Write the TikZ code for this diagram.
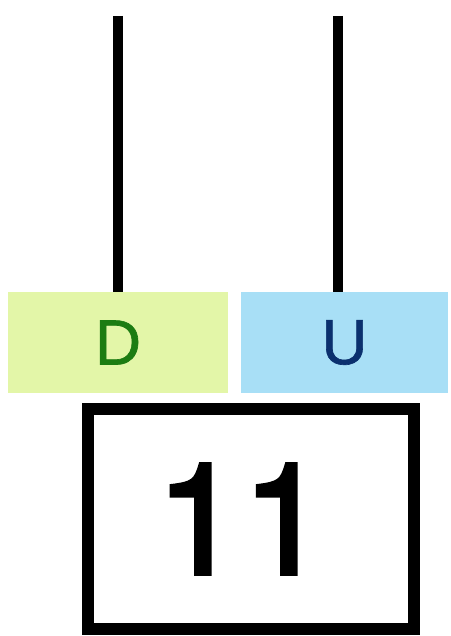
\documentclass[tikz,border=0pt]{standalone}
\usepackage{fontspec}
\setmainfont{Liberation Sans}
\newfontfamily\strandfont[FakeBold=1]{Liberation Sans}
\newfontfamily\countfont[FakeBold=2.5]{TeX Gyre Heros}
\usepackage{tikz}
\usetikzlibrary{positioning}
\definecolor{dfill}{HTML}{E3F6A8}
\definecolor{ufill}{HTML}{A8DFF6}
\definecolor{dtext}{HTML}{1C7C12}
\definecolor{utext}{HTML}{0B306E}
\tikzstyle{strand} = [rectangle, inner sep=0pt, minimum height=101pt,
                font=\strandfont\fontsize{64}{64}\selectfont]
\tikzstyle{wire} = [draw, line width=10pt]
\tikzstyle{countbox} = [rectangle, draw, line width=12pt, inner sep=0pt,
                minimum width=326pt, minimum height=220pt,
                font=\countfont\fontsize{155}{155}\selectfont]

\begin{document}
\begin{tikzpicture}[x=1pt,y=-1pt]
            \useasboundingbox (0,0) rectangle (450,636);
            \node[strand, fill=dfill, text=dtext, minimum width=220pt](down) at (118,342.5){D};
            \node[strand, fill=ufill, text=utext, minimum width=207pt](up) at (344.5,342.5){U};
            \node[countbox](count) at (251,519){\hspace*{-18pt}11};
            \coordinate (downtop) at (118,16);
            \coordinate (uptop) at (338,16);
            \path[wire] (downtop) -- (downtop |- down.north);
            \path[wire] (uptop) -- (uptop |- up.north);
        \end{tikzpicture}
\end{document}
